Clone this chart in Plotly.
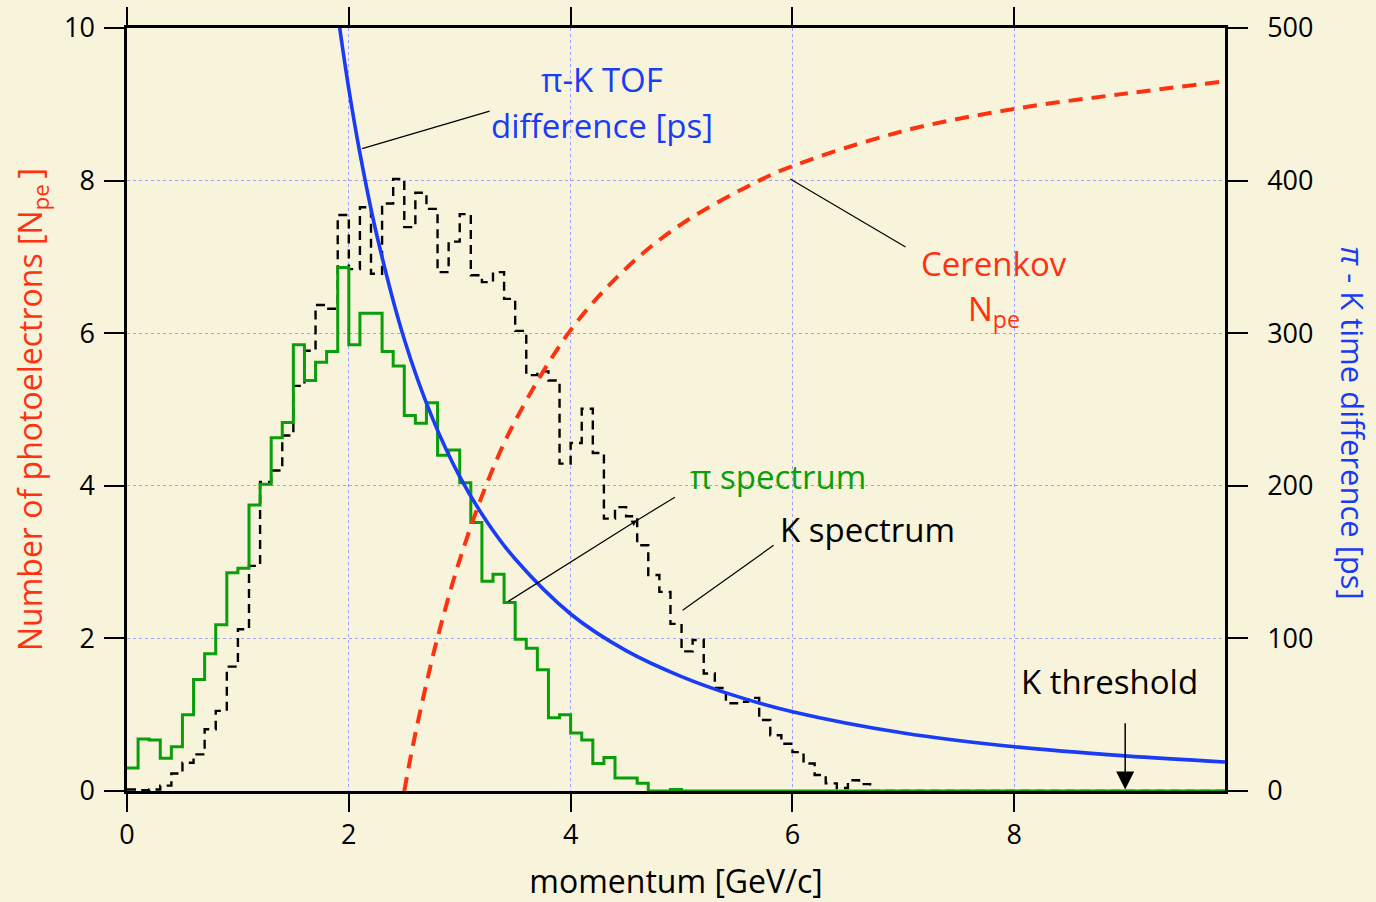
import numpy as np
import plotly.graph_objects as go

# ---------------- data ----------------
bin_width = 0.1
# pion spectrum (bins start at 0.0, width 0.1 GeV/c)
pi_counts = [0.30, 0.68, 0.67, 0.43, 0.58, 1.00, 1.46, 1.80, 2.18, 2.86,
             2.92, 3.75, 4.02, 4.63, 4.83, 5.85, 5.38, 5.62, 5.76, 6.86,
             5.85, 6.26, 6.26, 5.76, 5.57, 4.92, 4.82, 5.09, 4.40, 4.47,
             4.04, 3.52, 2.75, 2.84, 2.47, 1.99, 1.87, 1.59, 0.96, 1.00,
             0.76, 0.67, 0.36, 0.44, 0.17, 0.17, 0.10, 0.00, 0.00, 0.02] + [0.0] * 49
# kaon spectrum
k_counts = [0.02, 0.01, 0.02, 0.07, 0.23, 0.37, 0.48, 0.81, 1.05, 1.63,
            2.12, 2.95, 4.05, 4.20, 4.66, 5.31, 5.77, 6.37, 6.32, 7.55,
            6.84, 7.65, 6.78, 7.70, 8.02, 7.39, 7.84, 7.63, 6.80, 7.20,
            7.56, 6.76, 6.67, 6.80, 6.45, 6.03, 5.45, 5.50, 5.38, 4.29,
            4.56, 5.01, 4.43, 3.57, 3.72, 3.60, 3.22, 2.83, 2.61, 2.19,
            1.83, 1.98, 1.54, 1.35, 1.15, 1.17, 1.22, 0.93, 0.73, 0.62,
            0.51, 0.36, 0.21, 0.10, 0.04, 0.14, 0.09] + [0.0] * 32

# Cerenkov photoelectrons (left axis)
cer_p = [2.50, 2.55, 2.60, 2.70, 2.80, 3.00, 3.25, 3.50, 4.00, 4.50, 5.00,
         5.70, 6.00, 7.00, 8.00, 9.00, 9.90]
cer_npe = [0.00, 0.39, 0.75, 1.41, 2.01, 3.03, 4.05, 4.85, 6.04, 6.85, 7.43,
           8.00, 8.19, 8.65, 8.94, 9.14, 9.30]

# pi-K TOF difference in ps (right axis)
tof_p = [1.90, 2.00, 2.10, 2.25, 2.50, 2.75, 3.00, 3.25, 3.50, 4.00, 4.50,
         5.00, 5.50, 6.00, 7.00, 8.00, 9.00, 9.90]
tof_ps = [509, 460, 418, 365, 296, 245, 206, 176, 152, 116, 92,
          75, 62, 52, 38, 29, 23, 19]

x_ticks = [0, 2, 4, 6, 8]
y_ticks = [0, 2, 4, 6, 8, 10]
y2_ticks = [0, 100, 200, 300, 400, 500]

# ---------------- styling ----------------
BG = "#F8F4DC"
RED = "#FF3210"
BLUE = "#1A3CF5"
GREEN = "#0A9E0A"
FONT = "Open Sans"


def step_xy(counts):
    edges = np.round(np.arange(len(counts) + 1) * bin_width, 2)
    ys = list(counts) + [counts[-1]]
    return edges, ys


fig = go.Figure()

kx, ky = step_xy(k_counts)
fig.add_trace(go.Scatter(x=kx, y=ky, mode="lines", line_shape="hv",
                         line=dict(color="black", width=2.4, dash="9px,6px"),
                         showlegend=False, hoverinfo="skip"))
px_, py_ = step_xy(pi_counts)
fig.add_trace(go.Scatter(x=px_, y=py_, mode="lines", line_shape="hv",
                         line=dict(color=GREEN, width=3),
                         showlegend=False, hoverinfo="skip"))
fig.add_trace(go.Scatter(x=cer_p, y=cer_npe, mode="lines", line_shape="spline",
                         line=dict(color=RED, width=4, dash="14px,9px"),
                         showlegend=False, hoverinfo="skip"))
fig.add_trace(go.Scatter(x=tof_p, y=tof_ps, mode="lines", line_shape="spline",
                         yaxis="y2", line=dict(color=BLUE, width=3.6),
                         showlegend=False, hoverinfo="skip"))

# ---------------- annotations ----------------
ann = []
def text(x, y, s, color, size=33):
    ann.append(dict(x=x, y=y, xref="x", yref="y", text=s, showarrow=False,
                    font=dict(family=FONT, size=size, color=color),
                    xanchor="center", yanchor="middle"))

text(4.28, 9.33, "π-K TOF", BLUE)
text(4.28, 8.72, "difference [ps]", BLUE)
text(7.82, 6.92, "Cerenkov", RED)
text(7.82, 6.30, "N<sub>pe</sub>", RED)
text(5.87, 4.12, "π spectrum", GREEN)
text(6.68, 3.43, "K spectrum", "black")
text(8.86, 1.44, "K threshold", "black")

# right-hand axis title, reading top to bottom
ann.append(dict(x=1.1165, y=0.482, xref="paper", yref="paper", showarrow=False,
                text="<i>π</i> - K time difference [ps]", textangle=90,
                font=dict(family=FONT, size=31, color=BLUE),
                xanchor="center", yanchor="middle"))

# arrows
ann.append(dict(x=9.0, y=0.02, ax=9.0, ay=1.02, xref="x", yref="y", axref="x", ayref="y",
                showarrow=True, arrowhead=2, arrowsize=2.4, arrowwidth=1.5,
                arrowcolor="black", text=" "))
ann.append(dict(x=4.60, y=3.55, ax=3.41, ay=2.46, xref="x", yref="y", axref="x", ayref="y",
                showarrow=True, arrowhead=2, arrowsize=1.0, arrowwidth=1.2,
                arrowcolor="black", text=" "))

shapes = []
def seg(x0, y0, x1, y1):
    shapes.append(dict(type="line", xref="x", yref="y", x0=x0, y0=y0, x1=x1, y1=y1,
                       line=dict(color="black", width=1.2)))

seg(2.12, 8.42, 3.27, 8.91)      # TOF label line
seg(5.98, 8.02, 7.02, 7.13)      # Cerenkov label line
seg(4.60, 3.55, 4.94, 3.85)      # pi spectrum label line (continuation)
seg(5.01, 2.37, 5.83, 3.22)      # K spectrum label line

axis_common = dict(
    showline=True, linecolor="black", linewidth=2.5,
    ticks="outside", tickwidth=2.2, tickcolor="black",
    tickfont=dict(family=FONT, size=27, color="black"),
    zeroline=False, automargin=False,
)

fig.update_layout(
    width=1376, height=902,
    paper_bgcolor=BG, plot_bgcolor=BG,
    margin=dict(l=127, r=151, t=28, b=111),
    showlegend=False,
    font=dict(family=FONT),
    annotations=ann, shapes=shapes,
    xaxis=dict(range=[0, 9.9], tickvals=x_ticks, ticklen=18, mirror="ticks",
               showgrid=True, gridcolor="#9DA0FF", griddash="dot", gridwidth=1,
               title=dict(text="momentum [GeV/c]",
                          font=dict(family=FONT, size=32, color="black"), standoff=22),
               ticklabelstandoff=0,
               **axis_common),
    yaxis=dict(range=[0, 10], tickvals=y_ticks, ticklen=20,
               showgrid=True, gridcolor="#9DA0FF", griddash="dot", gridwidth=1,
               title=dict(text="Number of photoelectrons [N<sub>pe </sub>]",
                          font=dict(family=FONT, size=32, color=RED), standoff=12),
               ticklabelstandoff=4,
               **axis_common),
    yaxis2=dict(range=[0, 500], tickvals=y2_ticks, ticklen=20, overlaying="y", side="right",
                showgrid=False, ticklabelstandoff=14,
                **axis_common),
)

fig.write_html(
    "out.html",
    config={"displayModeBar": False},
    post_script="document.body.style.margin='0';document.body.style.background='%s';" % BG,
)
